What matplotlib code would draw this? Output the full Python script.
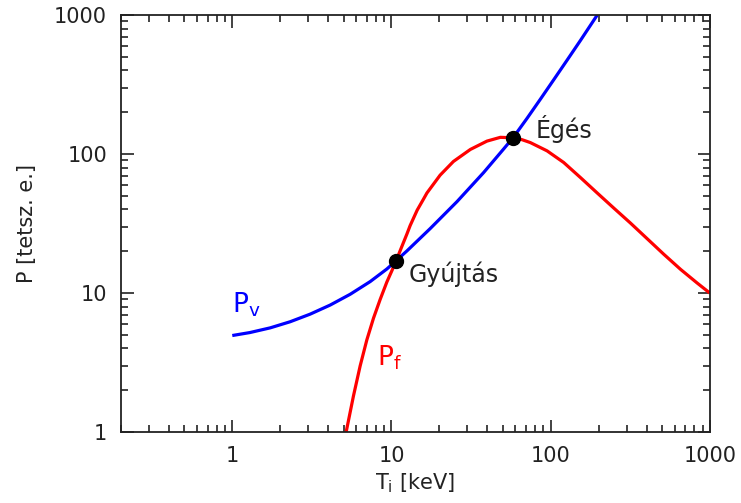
import matplotlib
matplotlib.use("Agg")
import matplotlib.pyplot as plt
from matplotlib.ticker import LogLocator, NullFormatter, FixedFormatter, FixedLocator

plt.rcParams['mathtext.default'] = 'regular'
plt.rcParams['font.family'] = 'DejaVu Sans'

# values (log-log)
pv_T = [1.0, 1.29, 1.73, 2.31, 3.08, 4.12, 5.50, 7.35, 9.35, 10.7, 12.5, 17.5, 25.8,
        37.9, 50.6, 58.0, 71.1, 86.1, 104.4, 126.8, 153.8, 196.0]
pv_P = [4.95, 5.2, 5.62, 6.22, 7.05, 8.2, 9.8, 12.1, 14.9, 17.1, 20.1, 29.1, 45.5,
        73.6, 108.7, 131.0, 181.0, 248.0, 342.0, 474.0, 657.0, 1000.0]

pf_T = [5.19, 5.77, 6.36, 7.0, 7.71, 8.49, 9.35, 10.3, 10.7, 11.34, 12.5, 13.1, 14.5,
        15.9, 16.7, 20.2, 24.5, 31.3, 39.8, 48.3, 58.0, 66.0, 74.5, 94.9, 120.7, 153.8,
        196.0, 249.0, 317.0, 404.0, 514.0, 655.0, 833.0, 1000.0]
pf_P = [1.0, 1.82, 3.0, 4.6, 6.6, 9.0, 12.0, 15.4, 17.1, 20.2, 26.6, 30.6, 39.5,
        47.5, 52.5, 70.5, 88.5, 108.0, 124.0, 132.0, 131.0, 127.0, 121.0, 105.5, 87.0, 67.8,
        52.5, 40.9, 31.9, 24.6, 19.0, 14.8, 11.8, 10.0]

pts_T = [10.7, 58.0]
pts_P = [17.1, 131.0]
pts_names = ['Gyújtás', 'Égés']

x_ticks = [1, 10, 100, 1000]
y_ticks = [1, 10, 100, 1000]

fig = plt.figure(figsize=(7.41, 5.03), dpi=100)
ax = fig.add_axes([0.1633, 0.141, 0.7947, 0.829])
ax.set_xscale('log')
ax.set_yscale('log')
ax.set_xlim(0.2, 1000)
ax.set_ylim(1, 1000)

ax.plot(pv_T, pv_P, color='#0000ff', lw=2.3, solid_capstyle='butt', solid_joinstyle='round')
ax.plot(pf_T, pf_P, color='#ff0000', lw=2.3, solid_capstyle='butt', solid_joinstyle='round')
ax.plot(pts_T, pts_P, 'o', color='black', ms=10, zorder=5)

ax.text(12.9, 12.0, pts_names[0], fontsize=17, color='#222222', va='baseline')
ax.text(80.1, 131, pts_names[1], fontsize=17, color='#222222', va='baseline')
ax.text(1.0, 7.3, 'P$_{v}$', fontsize=19, color='#0000ff', va='baseline')
ax.text(8.1, 3.0, 'P$_{f}$', fontsize=19, color='#ff0000', va='baseline')

ax.xaxis.set_major_locator(FixedLocator(x_ticks))
ax.xaxis.set_major_formatter(FixedFormatter([str(t) for t in x_ticks]))
ax.yaxis.set_major_locator(FixedLocator(y_ticks))
ax.yaxis.set_major_formatter(FixedFormatter([str(t) for t in y_ticks]))
for a in (ax.xaxis, ax.yaxis):
    a.set_minor_locator(LogLocator(base=10, subs=range(2, 10)))
    a.set_minor_formatter(NullFormatter())

ax.tick_params(which='both', direction='in', top=True, right=True, width=1.2, labelsize=15,
               color='#222222', labelcolor='#222222')
ax.tick_params(which='major', length=9, pad=10)
ax.tick_params(which='minor', length=5)
for s in ax.spines.values():
    s.set_linewidth(1.3)
    s.set_color('#222222')

ax.set_xlabel('T$_{i}$ [keV]', fontsize=15, color='#222222', labelpad=4)
ax.set_ylabel('P [tetsz. e.]', fontsize=15, color='#222222', labelpad=12)

fig.savefig('out.png', dpi=100)
